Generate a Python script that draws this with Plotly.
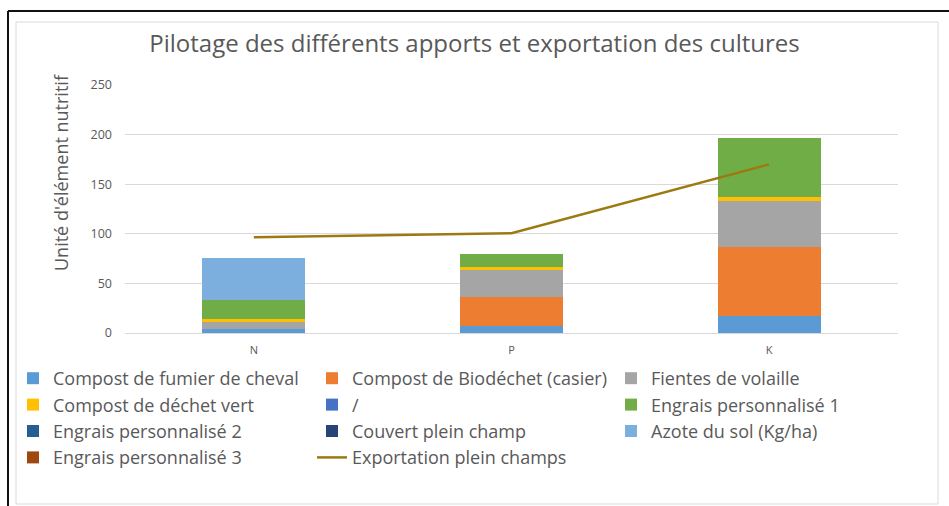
import plotly.graph_objects as go

categories = ["N", "P", "K"]
fumier = [4, 7.5, 17]
biodechet = [0, 28.5, 70]
fientes = [7, 27.5, 46]
dechet_vert = [3.5, 3.5, 4]
slash = [0, 0, 0]
engrais1 = [18.5, 13, 60]
engrais2 = [0, 0, 0]
couvert = [0, 0, 0]
azote = [43, 0, 0]
engrais3 = [0, 0, 0]
exportation = [96.5, 100.5, 170]

W, H = 949, 506
L, R, T, B = 125, 898, 85, 333

def px(x):
    return (x - L) / (R - L)

def py(y):
    return (B - y) / (B - T)

series = [
    ("Compost de fumier de cheval", fumier, "#5B9BD5"),
    ("Compost de Biodéchet (casier)", biodechet, "#ED7D31"),
    ("Fientes de volaille", fientes, "#A5A5A5"),
    ("Compost de déchet vert", dechet_vert, "#FFC000"),
    ("/", slash, "#4472C4"),
    ("Engrais personnalisé 1", engrais1, "#70AD47"),
    ("Engrais personnalisé 2", engrais2, "#255E91"),
    ("Couvert plein champ", couvert, "#264478"),
    ("Azote du sol (Kg/ha)", azote, "#7CAFDD"),
    ("Engrais personnalisé 3", engrais3, "#9E480E"),
]

fig = go.Figure()
for name, vals, col in series:
    fig.add_trace(go.Bar(x=categories, y=vals, name=name,
                         marker=dict(color=col, line=dict(width=0))))
fig.add_trace(go.Scatter(x=categories, y=exportation, name="Exportation plein champs",
                         mode="lines", line=dict(color="#9C7A12", width=2.5)))

font = "Open Sans"
fig.update_layout(
    width=W, height=H,
    margin=dict(l=L, r=W - R, t=T, b=H - B, autoexpand=False),
    barmode="stack", bargap=0.6,
    plot_bgcolor="white", paper_bgcolor="white",
    font=dict(family=font, color="#595959"),
    title=dict(text="Pilotage des différents apports et exportation des cultures",
               x=0.5, xanchor="center", y=1 - 44 / H, yanchor="middle",
               font=dict(size=24, color="#595959", family=font)),
    xaxis=dict(showgrid=False, showline=False, ticks="", ticklabelstandoff=9,
               tickfont=dict(size=11, color="#595959")),
    yaxis=dict(range=[0, 250], dtick=50, showgrid=True, gridcolor="#D9D9D9", gridwidth=1,
               zeroline=True, zerolinecolor="#D9D9D9", zerolinewidth=1,
               showline=False, ticks="", ticklabelstandoff=12,
               tickfont=dict(size=12.5, color="#595959")),
    legend=dict(orientation="h", x=px(13), xanchor="left", y=py(360), yanchor="top",
                entrywidth=254, entrywidthmode="pixels", tracegroupgap=0,
                traceorder="normal", bgcolor="rgba(0,0,0,0)",
                font=dict(size=18, color="#595959"), itemwidth=30),
    showlegend=True,
    annotations=[dict(text="Unité d'élément nutritif", textangle=-90,
                      xref="paper", yref="paper", x=px(61), y=py(173),
                      xanchor="center", yanchor="middle", showarrow=False,
                      font=dict(size=18, color="#595959", family=font))],
)

shapes = [
    dict(type="rect", xref="paper", yref="paper", x0=px(16), x1=px(938), y0=py(504), y1=py(22),
         line=dict(color="#D9D9D9", width=1), fillcolor="rgba(0,0,0,0)", layer="below"),
    dict(type="line", xref="paper", yref="paper", x0=px(8), x1=px(960), y0=py(11), y1=py(11),
         line=dict(color="#111111", width=2)),
    dict(type="line", xref="paper", yref="paper", x0=px(8), x1=px(8), y0=py(11), y1=py(520),
         line=dict(color="#111111", width=2)),
]
fig.update_layout(shapes=shapes)

fig.write_html("out.html", config={"displayModeBar": False},
               post_script="document.body.style.margin='0';document.body.style.overflow='hidden';")
